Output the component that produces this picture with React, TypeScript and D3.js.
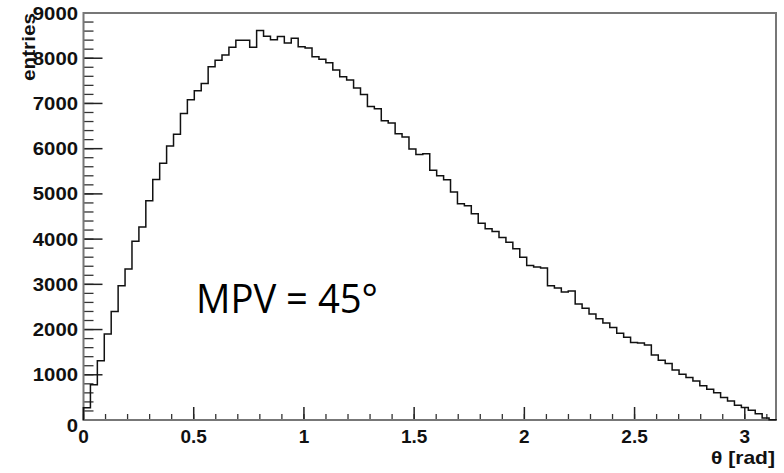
import React from "react";
import * as d3 from "d3";

const binValues: number[] = [
  270, 780, 1310, 1900, 2400, 2970, 3340, 3950, 4270, 4850,
  5320, 5680, 6060, 6320, 6780, 7080, 7280, 7440, 7810, 7955,
  8070, 8240, 8400, 8400, 8245, 8615, 8485, 8410, 8480, 8335,
  8440, 8255, 8225, 8030, 7975, 7900, 7740, 7590, 7517, 7340,
  7200, 6930, 6880, 6620, 6570, 6330, 6260, 5990, 5870, 5890,
  5520, 5400, 5310, 5040, 4783, 4735, 4560, 4350, 4230, 4170,
  4035, 3930, 3785, 3600, 3415, 3385, 3360, 2971, 2920, 2830,
  2855, 2565, 2470, 2344, 2240, 2145, 2045, 1918, 1830, 1714,
  1700, 1660, 1440, 1320, 1250, 1105, 1012, 938, 862, 757,
  680, 603, 497, 420, 328, 275, 215, 140, 45, 8,
];

const xMajorTicks = [0, 0.5, 1, 1.5, 2, 2.5, 3];
const xTickLabels = ["0", "0.5", "1", "1.5", "2", "2.5", "3"];
const yMajorTicks = [0, 1000, 2000, 3000, 4000, 5000, 6000, 7000, 8000, 9000];
const yTickLabels = ["0", "1000", "2000", "3000", "4000", "5000", "6000", "7000", "8000", "9000"];
const xTitle = "θ [rad]";
const yTitle = "entries";
const annotation = "MPV = 45°";

const W = 784;
const H = 473;
const left = 83.5;
const right = 776;
const top = 13;
const bottom = 420;

export default function App() {
  const x = d3.scaleLinear().domain([0, Math.PI]).range([left, right]);
  const y = d3.scaleLinear().domain([0, 9000]).range([bottom, top]);
  const nb = binValues.length;
  const bw = Math.PI / nb;

  const pts: [number, number][] = [[0, 0]];
  binValues.forEach((v, i) => pts.push([i * bw, v]));
  pts.push([Math.PI, binValues[nb - 1]]);
  pts.push([Math.PI, 0]);
  const line = d3
    .line<[number, number]>()
    .x((d) => x(d[0]))
    .y((d) => y(d[1]))
    .curve(d3.curveStepAfter);

  const xMinor = d3.range(0, 32).map((i) => i / 10).filter((v) => v <= Math.PI);
  const yMinor = d3.range(0, 46).map((i) => i * 200);

  const font = "'Liberation Sans', Arial, Helvetica, sans-serif";

  return (
    <svg
      width={W}
      height={H}
      style={{ position: "absolute", left: 0, top: 0, background: "#fff" }}
    >
      <rect x={0} y={0} width={W} height={H} fill="#fff" />
      {xMinor.map((v, i) => (
        <line key={"xm" + i} x1={x(v)} x2={x(v)} y1={bottom} y2={bottom - 6} stroke="#333" strokeWidth={1.3} />
      ))}
      {xMajorTicks.map((v, i) => (
        <line key={"xM" + i} x1={x(v)} x2={x(v)} y1={bottom} y2={bottom - 13} stroke="#222" strokeWidth={1.5} />
      ))}
      {yMinor.map((v, i) => (
        <line key={"ym" + i} x1={left} x2={left + 10} y1={y(v)} y2={y(v)} stroke="#333" strokeWidth={1.3} />
      ))}
      {yMajorTicks.map((v, i) => (
        <line key={"yM" + i} x1={left} x2={left + 19} y1={y(v)} y2={y(v)} stroke="#222" strokeWidth={1.5} />
      ))}
      <rect
        x={left}
        y={top}
        width={right - left}
        height={bottom - top}
        fill="none"
        stroke="#777"
        strokeWidth={2}
      />
      <path d={line(pts) || ""} fill="none" stroke="#111" strokeWidth={1.5} />
      {yMajorTicks.map((v, i) => (
        <text
          key={"yl" + i}
          x={78}
          y={y(v) + (v === 0 ? 5 : 0)}
          textAnchor="end"
          dominantBaseline="central"
          fontFamily={font}
          fontWeight="bold"
          fontSize={19}
          fill="#111"
          textLength={yTickLabels[i].length * 11.3}
          lengthAdjust="spacingAndGlyphs"
        >
          {yTickLabels[i]}
        </text>
      ))}
      {xMajorTicks.map((v, i) => (
        <text
          key={"xl" + i}
          x={x(v)}
          y={443}
          textAnchor="middle"
          fontFamily={font}
          fontWeight="bold"
          fontSize={19}
          fill="#111"
        >
          {xTickLabels[i]}
        </text>
      ))}
      <text
        x={775}
        y={464}
        textAnchor="end"
        fontFamily={font}
        fontWeight="bold"
        fontSize={19}
        fill="#111"
        textLength={64}
        lengthAdjust="spacingAndGlyphs"
      >
        {xTitle}
      </text>
      <text
        transform={`translate(35, ${top}) rotate(-90)`}
        textAnchor="end"
        fontFamily={font}
        fontWeight="bold"
        fontSize={19}
        fill="#111"
        textLength={68}
        lengthAdjust="spacingAndGlyphs"
      >
        {yTitle}
      </text>
      <text
        x={196}
        y={313}
        fontFamily="'Open Sans', 'Noto Sans', sans-serif"
        fontSize={40}
        fill="#000"
        textLength={182}
        lengthAdjust="spacingAndGlyphs"
      >
        {annotation}
      </text>
    </svg>
  );
}
